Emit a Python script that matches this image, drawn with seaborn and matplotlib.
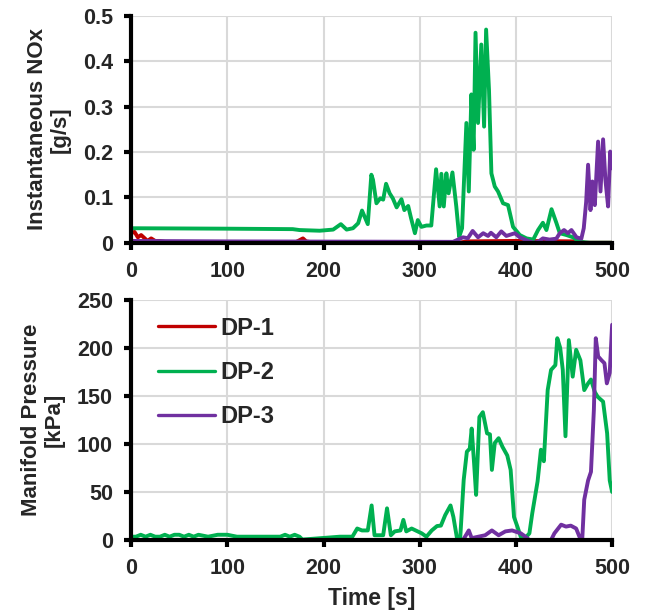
import numpy as np
import pandas as pd
import matplotlib
matplotlib.use("Agg")
import matplotlib.pyplot as plt
import seaborn as sns

# ---- NOx (top panel) ----
noxTimeDP1 = [0, 3.5, 7, 10.4, 14, 17, 20.8, 25, 29.5, 40, 100, 170, 178.6, 182, 188, 200, 340, 350, 400, 465, 472, 500]
noxDP1 = [0.021, 0.024, 0.012, 0.017, 0.010, 0.004, 0.0096, 0.004, 0.004, 0.0, 0.0, 0.0, 0.0096, 0.003, 0.001, 0.0, 0.0, 0.003, 0.004, 0.003, 0.0, 0.0]

noxTimeDP2 = [0, 100, 168, 175, 196, 210, 218, 224, 230.6, 236, 240, 246, 249.7, 251.4, 255, 259, 262, 265, 268.7,
              272, 276, 281, 284, 288, 291, 295, 298, 301.7, 307, 312, 317, 320.7, 322.5, 325, 327.7, 330, 334, 338,
              341, 344, 348.5, 351, 353.7, 356, 358, 360.6, 364, 366.9, 369, 372, 374.5, 378, 381.4, 386.6, 391.8,
              397, 404, 411, 418, 423, 428, 431.7, 437, 442, 445.6, 452.5, 459.4, 466, 477, 500]
noxDP2 = [0.032, 0.031, 0.030, 0.028, 0.0265, 0.029, 0.041, 0.029, 0.032, 0.043, 0.071, 0.041, 0.150, 0.139, 0.087,
          0.098, 0.095, 0.130, 0.109, 0.098, 0.078, 0.096, 0.072, 0.081, 0.054, 0.021, 0.050, 0.035, 0.038, 0.038,
          0.162, 0.080, 0.152, 0.080, 0.153, 0.109, 0.155, 0.080, 0.013, 0.032, 0.264, 0.113, 0.327, 0.205, 0.463,
          0.264, 0.437, 0.256, 0.470, 0.337, 0.153, 0.124, 0.113, 0.087, 0.083, 0.035, 0.017, 0.0096, 0.007, 0.028,
          0.044, 0.028, 0.074, 0.044, 0.021, 0.017, 0.012, 0.002, 0.0, 0.0]

noxTimeDP3 = [0, 100, 334.6, 345, 350, 355, 360.6, 366, 371, 374, 379.6, 384.8, 390, 398.8, 404, 412.6, 418, 423,
              428, 435, 442, 445.6, 450, 454, 457.7, 463, 468, 470.5, 473, 475, 477.5, 479.5, 482, 485.4, 487.9,
              490.6, 493, 495.8, 498, 500]
noxDP3 = [0.004, 0.003, 0.002, 0.012, 0.010, 0.026, 0.012, 0.021, 0.015, 0.022, 0.012, 0.025, 0.015, 0.021, 0.012,
          0.004, 0.0, 0.002, 0.0096, 0.007, 0.009, 0.021, 0.028, 0.021, 0.028, 0.012, 0.009, 0.032, 0.090, 0.172,
          0.072, 0.135, 0.083, 0.223, 0.113, 0.228, 0.139, 0.080, 0.201, 0.164]

# ---- Manifold pressure (bottom panel) ----
mapTimeDP1 = [0, 500]
mapDP1 = [0, 0]

mapTimeDP2 = [0, 5, 10, 15, 20, 25, 30, 35, 40, 45, 50, 55, 60, 65, 70, 80, 90, 100, 110, 120, 140, 155, 160, 165,
              170, 175, 178, 217, 230, 235, 240, 246, 250, 253, 262, 266, 270, 274, 280, 283, 286, 291.6, 302, 307,
              312.5, 318, 322, 326.5, 332, 335, 338.7, 342, 345.7, 349, 352, 354, 356.5, 358.6, 362, 365.6, 370,
              373, 375, 378, 382, 386, 391, 394.5, 398, 401.5, 405, 408.5, 414, 417, 422.5, 426, 429, 433, 436.5,
              441, 443, 446, 448.7, 451.5, 455, 459, 462.6, 467, 471, 475, 478, 482, 485, 490.6, 494.8, 497.5, 500]
mapDP2 = [3.5, 3.5, 5.5, 3.5, 5.5, 3.5, 3.5, 5.5, 3.5, 5.5, 5.5, 3.5, 5.5, 3.5, 5.5, 3.5, 5.5, 5.5, 3.5, 3.5, 3.5,
          3.5, 5.5, 3.5, 5.5, 3.5, 0.5, 3.5, 3.5, 12, 10, 10, 36, 5, 5, 33, 5, 9, 10, 21, 9, 12, 7, 3.5, 10, 14.6,
          15, 26, 36, 24, 2, 0.7, 62.5, 92, 95, 116, 80, 47, 128, 133, 111, 110, 73, 101, 106, 97, 88, 73, 24, 14,
          3.5, 0.7, 7, 28, 61, 94, 82, 156, 177, 182, 210, 200, 177, 108, 208, 170, 198, 187, 156, 163, 167, 154,
          149, 144, 111, 62, 50]

mapTimeDP3 = [0, 100, 300, 345, 351, 354, 361, 368, 375, 382, 389, 396, 405, 410, 414, 436.5, 440, 447, 452, 457,
              462.6, 466, 469, 471, 475, 478, 481, 483, 485.5, 489, 492, 494.5, 497.5, 500]
mapDP3 = [0, 0, 0, 0, 10, 2, 3.5, 5, 10, 5, 9, 10, 7, 3.5, 0, 0, 7, 16, 14, 15, 12, 3.5, 2, 42, 62, 71, 135, 210,
          191, 187, 184, 163, 174, 224]

seriesNames = ["DP-1", "DP-2", "DP-3"]
seriesColors = ["#C00000", "#00B050", "#7030A0"]


def BuildFrame(times, values):
    frames = []
    for name, t, v in zip(seriesNames, times, values):
        frames.append(pd.DataFrame({"time": t, "value": v, "series": name}))
    return pd.concat(frames, ignore_index=True)


noxFrame = BuildFrame([noxTimeDP1, noxTimeDP2, noxTimeDP3], [noxDP1, noxDP2, noxDP3])
mapFrame = BuildFrame([mapTimeDP1, mapTimeDP2, mapTimeDP3], [mapDP1, mapDP2, mapDP3])

sns.set_style("whitegrid")
plt.rcParams["font.family"] = ["Liberation Sans", "DejaVu Sans"]
plt.rcParams["font.weight"] = "bold"

fig = plt.figure(figsize=(6.69, 6.13), dpi=100)
axTop = fig.add_axes([0.196, 0.604, 0.719, 0.370])
axBottom = fig.add_axes([0.196, 0.119, 0.719, 0.392])

palette = dict(zip(seriesNames, seriesColors))

sns.lineplot(data=noxFrame, x="time", y="value", hue="series", palette=palette,
             ax=axTop, linewidth=2.8, legend=False, sort=False)
sns.lineplot(data=mapFrame, x="time", y="value", hue="series", palette=palette,
             ax=axBottom, linewidth=2.8, sort=False)

axTop.set_ylim(0, 0.5)
axTop.set_yticks([0, 0.1, 0.2, 0.3, 0.4, 0.5])
axTop.set_yticklabels(["0", "0.1", "0.2", "0.3", "0.4", "0.5"])
axTop.set_ylabel("Instantaneous NOx\n[g/s]", fontsize=16, fontweight="bold", labelpad=9, linespacing=1.1)
axTop.set_xlabel("")

axBottom.set_ylim(0, 250)
axBottom.set_yticks([0, 50, 100, 150, 200, 250])
axBottom.set_ylabel("Manifold Pressure\n[kPa]", fontsize=16, fontweight="bold", labelpad=9, linespacing=1.1)
axBottom.set_xlabel("Time [s]", fontsize=16.5, fontweight="bold", labelpad=6)

for ax in [axTop, axBottom]:
    ax.set_xlim(0, 500)
    ax.set_xticks([0, 100, 200, 300, 400, 500])
    ax.grid(True, color="#d9d9d9", linewidth=1.5)
    ax.set_axisbelow(True)
    for side in ["top", "right"]:
        ax.spines[side].set_visible(False)
    for side in ["left", "bottom"]:
        ax.spines[side].set_color("black")
        ax.spines[side].set_linewidth(3)
    ax.tick_params(axis="both", direction="out", length=5, width=3, color="black",
                   labelsize=15.5, pad=8, left=True, bottom=True)
    for lab in ax.get_xticklabels() + ax.get_yticklabels():
        lab.set_fontweight("bold")

leg = axBottom.legend(loc="upper left", frameon=False, fontsize=17, handlelength=2.4,
                      handletextpad=0.22, labelspacing=0.9, borderpad=0, borderaxespad=0,
                      bbox_to_anchor=(0.056, 0.93))
for line in leg.get_lines():
    line.set_linewidth(2.4)
for txt in leg.get_texts():
    txt.set_fontweight("bold")

fig.savefig("out.png", dpi=100)
